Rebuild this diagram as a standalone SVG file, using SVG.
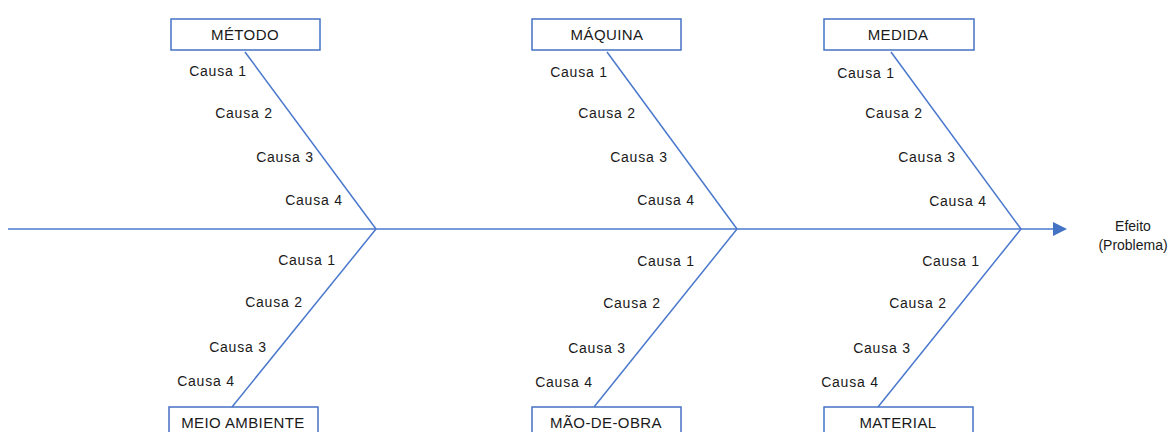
<svg xmlns="http://www.w3.org/2000/svg" width="1173" height="432" viewBox="0 0 1173 432">
  <style>
    .box { fill: #ffffff; stroke: #4472c4; stroke-width: 1.5; }
    .bone { stroke: #4a78cc; stroke-width: 1.5; fill: none; }
    .cat { font-family: "Liberation Sans", Arial, sans-serif; font-size: 15px; fill: #1a1a1a; text-anchor: middle; letter-spacing: 0.4px; }
    .cause { font-family: "Liberation Sans", Arial, sans-serif; font-size: 14px; fill: #1a1a1a; text-anchor: middle; letter-spacing: 0.8px; }
    .effect { font-family: "Liberation Sans", Arial, sans-serif; font-size: 14px; fill: #1a1a1a; text-anchor: middle; }
  </style>
  <defs>
    <marker id="head" viewBox="0 0 10 10" refX="0" refY="5" markerWidth="14" markerHeight="14" markerUnits="userSpaceOnUse" orient="auto">
      <path d="M0,0 L10,5 L0,10 Z" fill="#4472c4"/>
    </marker>
  </defs>

  <rect width="1173" height="432" fill="#ffffff"/>

  <!-- spine and ribs -->
  <g id="connectors">
    <line class="bone" x1="8" y1="229" x2="1053" y2="229" marker-end="url(#head)"/>
    <line class="bone" x1="245" y1="52" x2="376" y2="229"/>
    <line class="bone" x1="376" y1="229" x2="232" y2="407"/>
    <line class="bone" x1="607" y1="52" x2="737" y2="229"/>
    <line class="bone" x1="737" y1="229" x2="594" y2="407"/>
    <line class="bone" x1="891" y1="52" x2="1021" y2="229"/>
    <line class="bone" x1="1021" y1="229" x2="878" y2="407"/>
  </g>

  <!-- category boxes -->
  <g id="metodo">
    <rect class="box" x="171" y="19" width="149" height="31"/>
    <text class="cat" x="245" y="40">MÉTODO</text>
  </g>
  <g id="maquina">
    <rect class="box" x="532" y="19" width="149" height="31"/>
    <text class="cat" x="607" y="40">MÁQUINA</text>
  </g>
  <g id="medida">
    <rect class="box" x="824" y="19" width="150" height="31"/>
    <text class="cat" x="898" y="40">MEDIDA</text>
  </g>
  <g id="meio-ambiente">
    <rect class="box" x="169" y="407" width="149" height="31"/>
    <text class="cat" x="243" y="428">MEIO AMBIENTE</text>
  </g>
  <g id="mao-de-obra">
    <rect class="box" x="532" y="407" width="149" height="31"/>
    <text class="cat" x="606" y="428">MÃO-DE-OBRA</text>
  </g>
  <g id="material">
    <rect class="box" x="824" y="407" width="149" height="31"/>
    <text class="cat" x="898" y="428">MATERIAL</text>
  </g>

  <!-- causes -->
  <g id="causes-metodo">
    <text class="cause" x="218" y="76">Causa 1</text>
    <text class="cause" x="244" y="118">Causa 2</text>
    <text class="cause" x="285" y="162">Causa 3</text>
    <text class="cause" x="314" y="205">Causa 4</text>
  </g>
  <g id="causes-meio-ambiente">
    <text class="cause" x="307" y="265">Causa 1</text>
    <text class="cause" x="274" y="307">Causa 2</text>
    <text class="cause" x="238" y="352">Causa 3</text>
    <text class="cause" x="206" y="386">Causa 4</text>
  </g>
  <g id="causes-maquina">
    <text class="cause" x="579" y="77">Causa 1</text>
    <text class="cause" x="607" y="118">Causa 2</text>
    <text class="cause" x="639" y="162">Causa 3</text>
    <text class="cause" x="666" y="205">Causa 4</text>
  </g>
  <g id="causes-mao-de-obra">
    <text class="cause" x="666" y="266">Causa 1</text>
    <text class="cause" x="632" y="308">Causa 2</text>
    <text class="cause" x="597" y="353">Causa 3</text>
    <text class="cause" x="564" y="387">Causa 4</text>
  </g>
  <g id="causes-medida">
    <text class="cause" x="866" y="78">Causa 1</text>
    <text class="cause" x="894" y="118">Causa 2</text>
    <text class="cause" x="927" y="162">Causa 3</text>
    <text class="cause" x="958" y="206">Causa 4</text>
  </g>
  <g id="causes-material">
    <text class="cause" x="951" y="266">Causa 1</text>
    <text class="cause" x="918" y="308">Causa 2</text>
    <text class="cause" x="882" y="353">Causa 3</text>
    <text class="cause" x="850" y="387">Causa 4</text>
  </g>

  <!-- effect -->
  <g id="efeito">
    <text class="effect" x="1133" y="231">Efeito</text>
    <text class="effect" x="1133" y="250">(Problema)</text>
  </g>
</svg>
